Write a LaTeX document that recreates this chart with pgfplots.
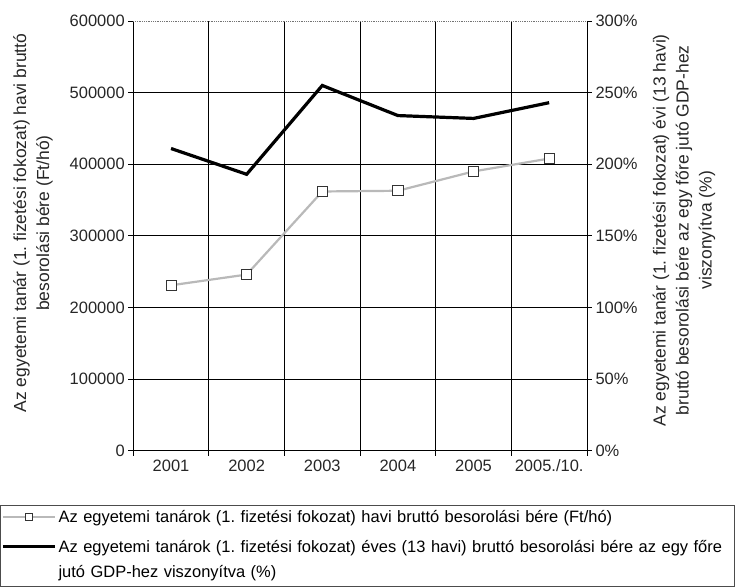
\documentclass[border=0pt]{standalone}
\usepackage{fontspec}
\setmainfont{Liberation Sans}
\usepackage{pgfplots}
\pgfplotsset{compat=1.18}

\begin{document}
\frenchspacing
\begin{tikzpicture}
\pgfplotsset{
  common/.style={
    scale only axis, width=453bp, height=429bp,
    xmin=-0.5, xmax=5.5,
    ticklabel style={font=\fontsize{16.5}{19}\selectfont, black!85},
    label style={font=\fontsize{17.5}{23}\selectfont, black!85},
    /pgf/number format/assume math mode=true,
    tick align=outside,
    major tick length=5bp,
    minor tick length=5bp,
    axis line style={black, line width=0.8bp},
    tick style={black, line width=0.8bp},
  },
}
% left axis: monthly gross salary (Ft/month), with grid
\begin{axis}[common,
  axis x line*=bottom, axis y line*=left,
  ymin=0, ymax=600000,
  ytick={0,100000,...,500000},
  extra y ticks={600000},
  extra y tick style={grid style={densely dotted, black!55, line width=0.8bp}},
  scaled y ticks=false,
  yticklabel style={/pgf/number format/fixed, /pgf/number format/set thousands separator={}},
  ymajorgrids,
  grid style={black, line width=0.8bp},
  xtick={0,...,5},
  xticklabels={2001,2002,2003,2004,2005,2005./10.},
  xticklabel style={text height=12bp, text depth=1bp},
  every major x tick/.style={draw=none},
  minor xtick={-0.5,0.5,...,5.5},
  xminorgrids,
  minor grid style={black, line width=0.8bp},
  ylabel={Az egyetemi tanár (1. fizetési fokozat) havi bruttó\\besorolási bére (Ft/hó)},
  ylabel style={align=center, at={(axis description cs:-0.221,0.53)}, anchor=center},
]
\addplot[gray!55, line width=2.2bp, mark=square*,
  mark options={solid, fill=white, draw=black!80, line width=0.8bp}, mark size=5bp]
  coordinates {(0,231000) (1,246000) (2,362000) (3,363000) (4,390000) (5,408000)};
\end{axis}
% right axis: annual salary relative to GDP per capita (%)
\begin{axis}[common,
  axis y line*=right, axis x line=none,
  ymin=0, ymax=300,
  ytick={0,50,...,300},
  yticklabel={\pgfmathprintnumber{\tick}\%},
  ylabel={Az egyetemi tanár (1. fizetési fokozat) évi (13 havi)\\bruttó besorolási bére az egy főre jutó GDP-hez\\viszonyítva (\%)},
  ylabel style={align=center, at={(axis description cs:1.214,0.513)}, anchor=center},
  legend style={at={(axis description cs:-0.2936,-0.126)}, anchor=north west,
    draw=black!70, line width=0.6bp, font=\fontsize{16.5}{20}\selectfont,
    nodes={text height=12bp, text depth=4bp, inner ysep=0bp},
    cells={anchor=base west}, row sep=9bp, inner xsep=1bp, inner ysep=5bp},
  legend image code/.code={
    \draw[mark repeat=2, mark phase=2, #1, yshift=5.5bp]
      plot coordinates {(0bp,0bp) (26bp,0bp) (52bp,0bp)};},
]
\addlegendimage{gray!55, line width=2.2bp, mark=square*,
  mark options={solid, fill=white, draw=black!80, line width=0.6bp}, mark size=3.5bp}
\addlegendentry[text width=672bp, text height=12bp, text depth=9bp]{\mbox{Az egyetemi tanárok (1. fizetési fokozat) havi bruttó besorolási bére (Ft/hó)}}
\addplot[black, line width=3.2bp]
  coordinates {(0,211) (1,193) (2,255) (3,234) (4,232) (5,243)};
\addlegendentry[text width=672bp]{\mbox{Az egyetemi tanárok (1. fizetési fokozat) éves (13 havi) bruttó besorolási bére az egy főre}}
\addlegendimage{empty legend}
\addlegendentry[text width=672bp]{\mbox{jutó GDP-hez viszonyítva (\%)}}
\end{axis}
% blank margin above the plot area
\path ([yshift=21bp]current axis.north);
\end{tikzpicture}
\end{document}
